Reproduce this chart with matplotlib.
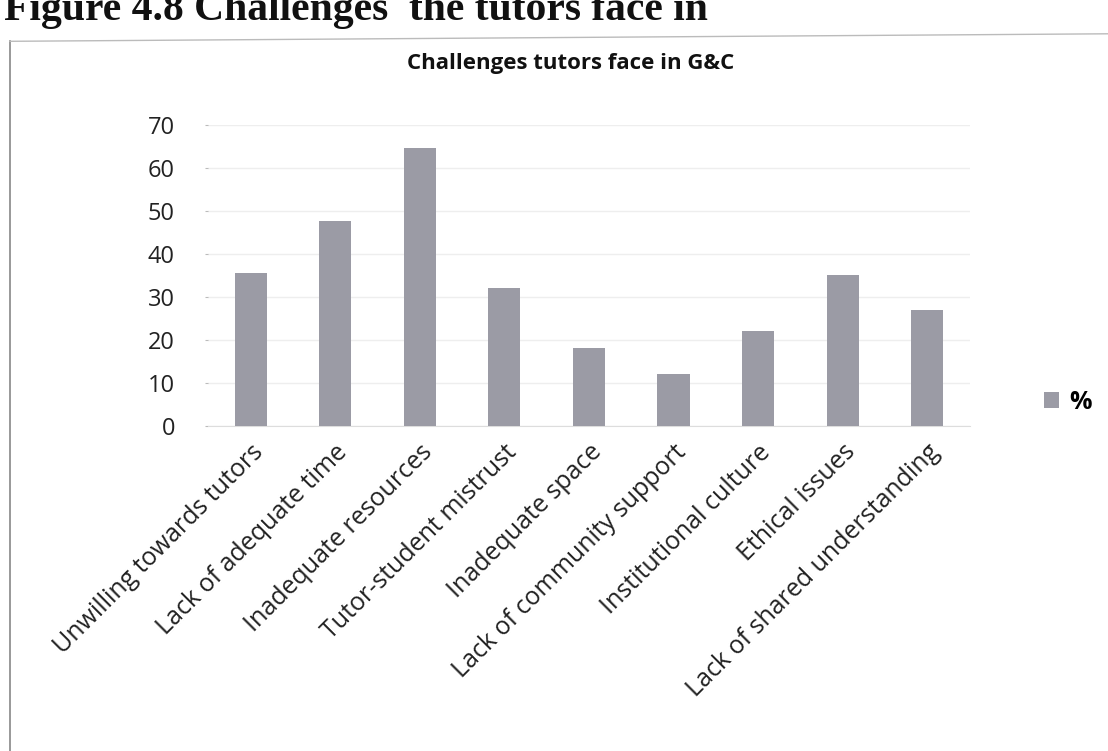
import matplotlib
matplotlib.use("Agg")
import matplotlib.pyplot as plt
from matplotlib.lines import Line2D

categories = ["Unwilling towards tutors", "Lack of adequate time", "Inadequate resources",
              "Tutor-student mistrust", "Inadequate space", "Lack of community support",
              "Institutional culture", "Ethical issues", "Lack of shared understanding"]
values = [35.5, 47.5, 64.5, 32, 18, 12, 22, 35, 27]
yticks = [0, 10, 20, 30, 40, 50, 60, 70]
series_name = "%"

plt.rcParams['font.family'] = ['Open Sans', 'DejaVu Sans']

fig = plt.figure(figsize=(11.08, 7.51), dpi=100)
ax = fig.add_axes([0.188, 0.433, 0.687, 0.401])

bar_color = "#9b9ba5"
x = list(range(len(categories)))
ax.bar(x, values, width=0.38, color=bar_color, label=series_name, zorder=3)
ax.set_xlim(-0.5, len(categories) - 0.5)
ax.set_ylim(0, 70)
ax.set_yticks(yticks)
ax.set_yticklabels([str(t) for t in yticks], fontsize=17, color="#222222")
ax.set_xticks(x)
ax.set_xticklabels(categories, rotation=45, ha="right", rotation_mode="anchor",
                   fontsize=18, color="#222222")
ax.tick_params(axis="x", length=0, pad=10)
ax.tick_params(axis="y", length=2, color="#bbbbbb", pad=22)
ax.grid(axis="y", color="#eeeeee", linewidth=1, zorder=0)
for s in ["top", "right", "left"]:
    ax.spines[s].set_visible(False)
ax.spines["bottom"].set_color("#dddddd")

fig.text(0.515, 0.915, "Challenges tutors face in G&C", ha="center", va="center",
         fontsize=16, fontweight="bold", color="#111111")

# legend
ax.legend(loc="center left", bbox_to_anchor=(1.068, 0.078), frameon=False,
          prop={"size": 18, "weight": "bold"}, handlelength=0.6, handleheight=0.6,
          handletextpad=0.4)

# page heading (top edge partially cut, as in the scan)
fig.text(0.004, 0.974, "Figure 4.8 Challenges  the tutors face in", ha="left", va="baseline",
         fontsize=30, fontweight="bold", family="Liberation Serif", color="#111111")

# chart frame (left and top edges visible)
fig.add_artist(Line2D([0.009, 0.009], [0.0, 0.945], transform=fig.transFigure,
                      color="#888888", linewidth=1.2))
fig.add_artist(Line2D([0.009, 1.0], [0.945, 0.955], transform=fig.transFigure,
                      color="#bbbbbb", linewidth=1))

fig.savefig("out.png", dpi=100, facecolor="white")
